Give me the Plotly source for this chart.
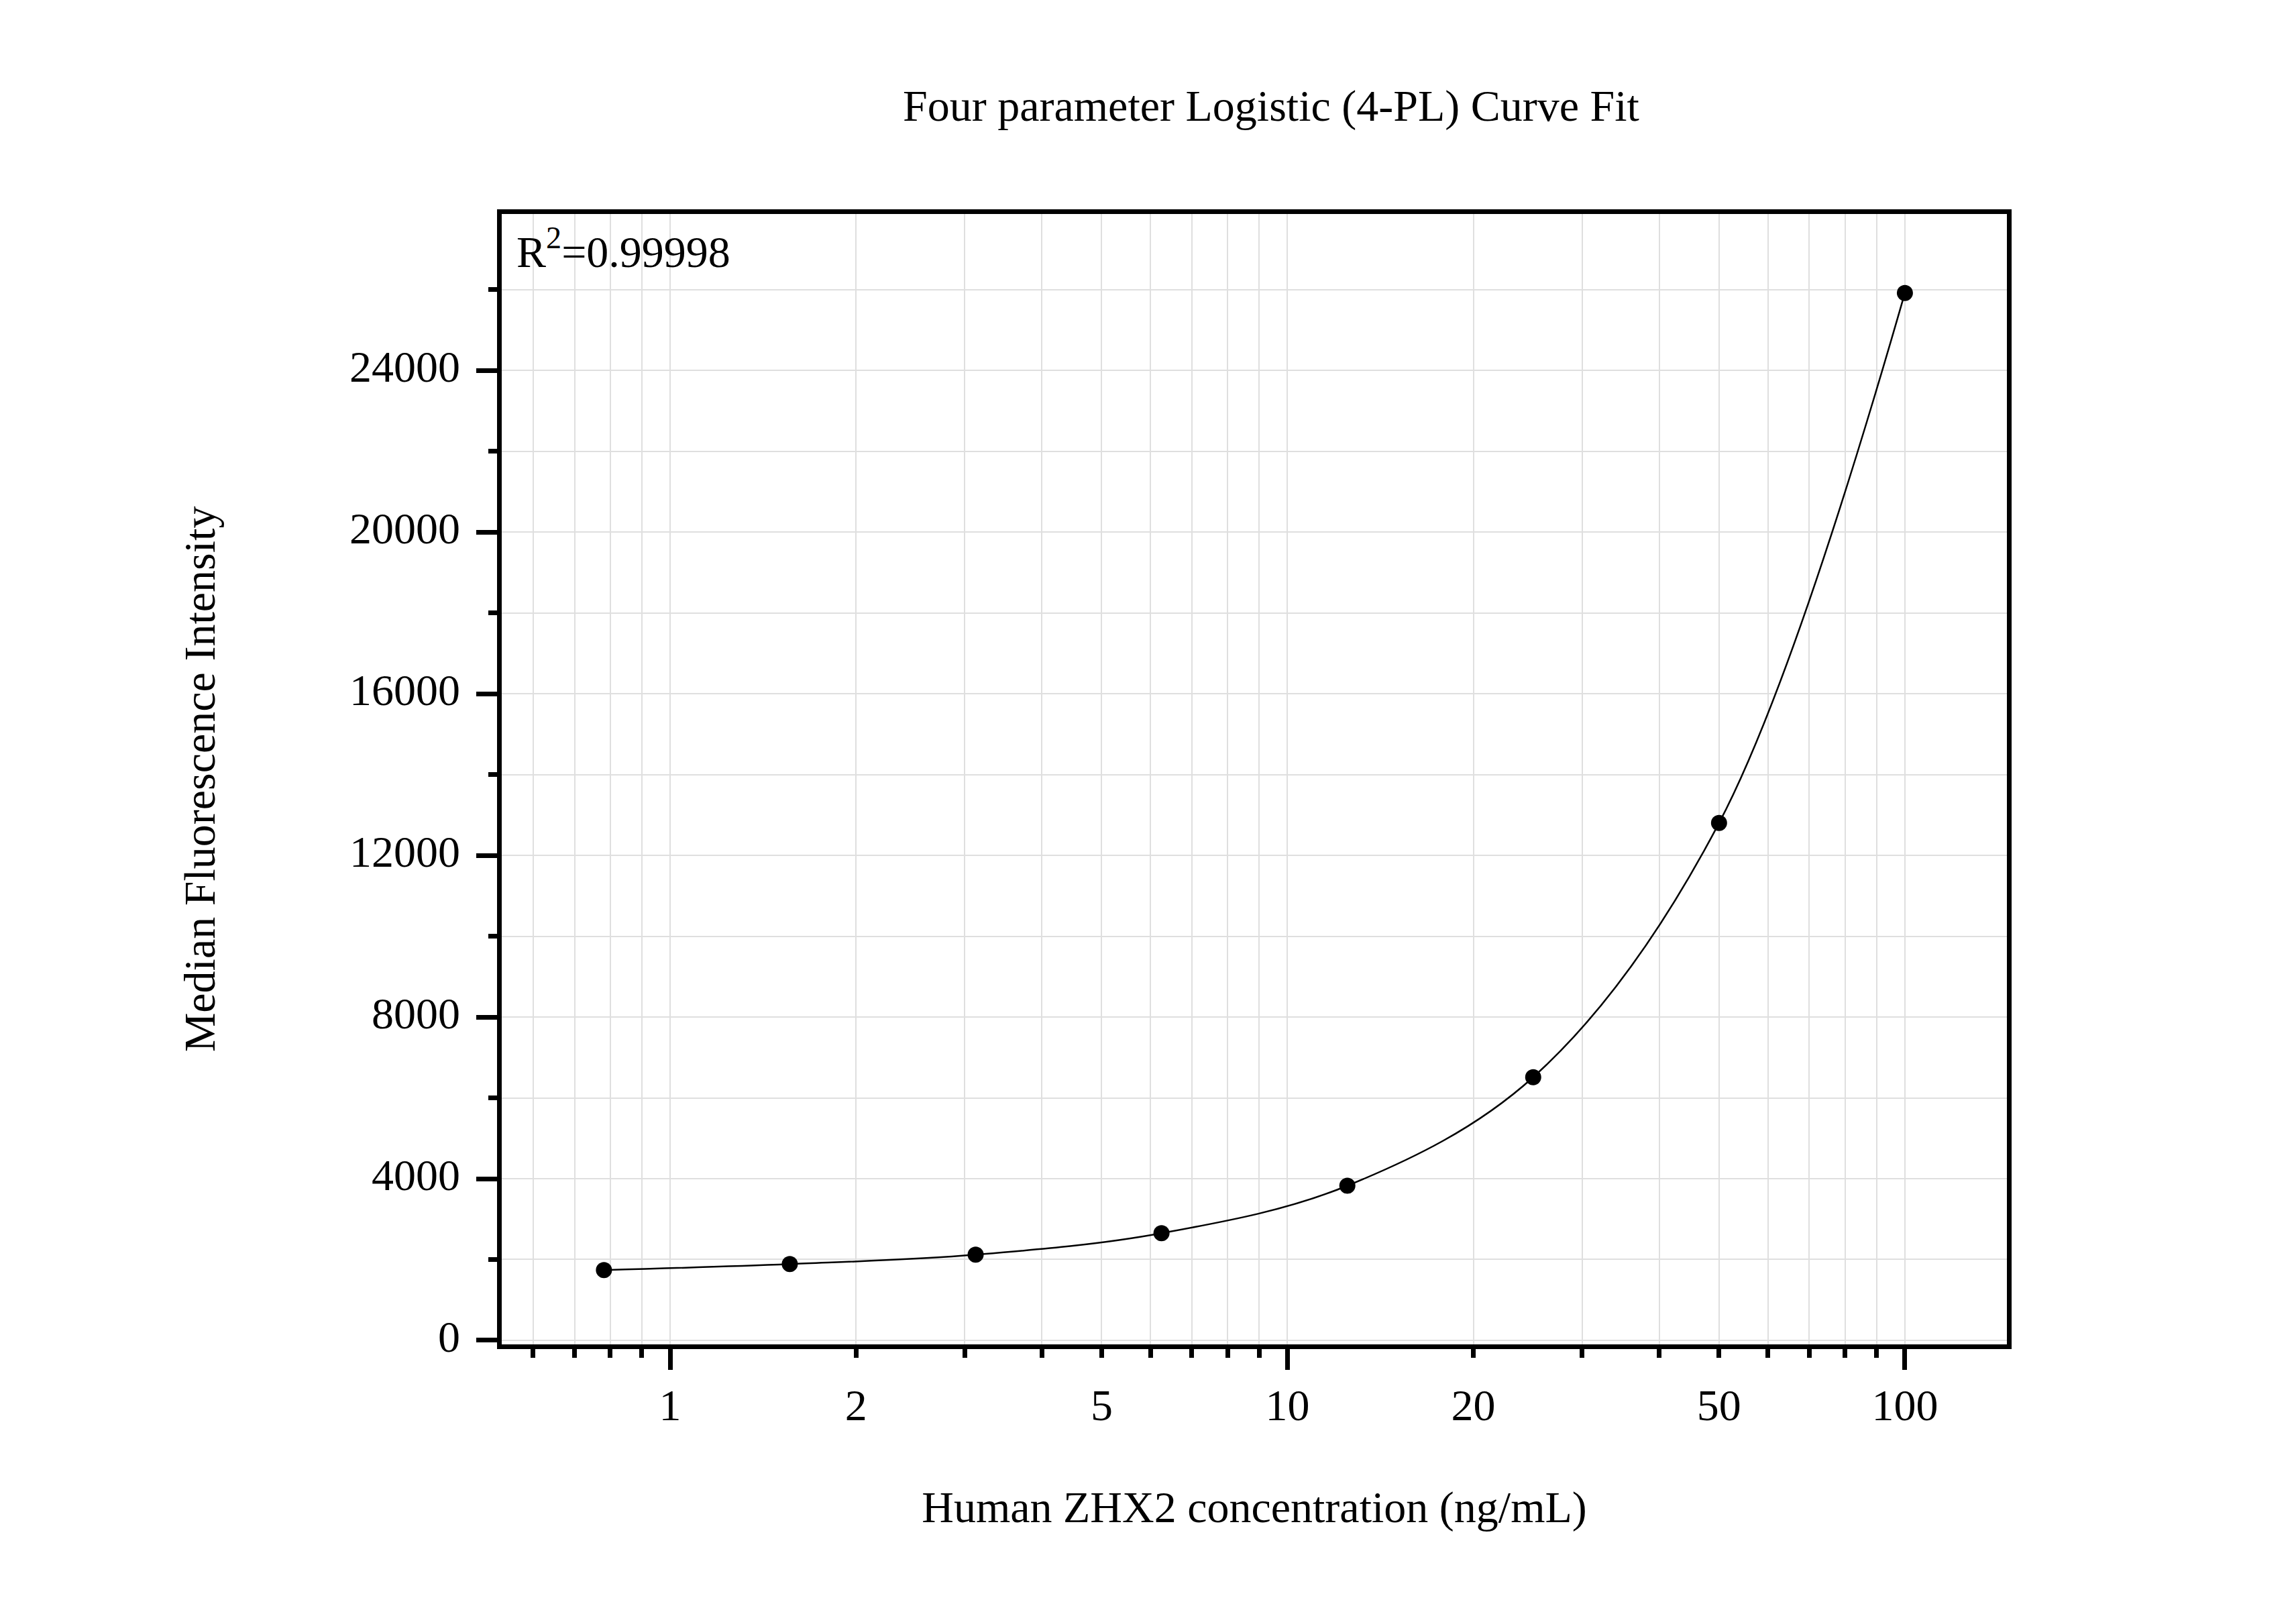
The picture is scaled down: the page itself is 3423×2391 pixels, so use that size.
import plotly.graph_objects as go
import math

# ---- data ----
concentration = [0.78125, 1.5625, 3.125, 6.25, 12.5, 25, 50, 100]
mfi = [1738, 1887, 2119, 2650, 3826, 6511, 12800, 25917]

x_tickvals = [1, 2, 5, 10, 20, 50, 100]
x_ticktext = ["1", "2", "5", "10", "20", "50", "100"]
x_minorvals = [0.6, 0.7, 0.8, 0.9, 3, 4, 6, 7, 8, 9, 30, 40, 60, 70, 80, 90]
x_longticks = [1, 10, 100]

title_text = "Four parameter Logistic (4-PL) Curve Fit"
x_title = "Human ZHX2 concentration (ng/mL)"
y_title = "Median Fluorescence Intensity"
r2_text = "R<sup>2</sup>=0.99998"

FONT = "Liberation Serif, Times New Roman, serif"
FS = 66
W, H = 3423, 2391
GRID = "#dfdfdf"
LW = 6.5

xr = [math.log10(0.5336), math.log10(146.3)]
yr = [-100, 27870]

fig = go.Figure()
fig.add_trace(go.Scatter(
    x=concentration, y=mfi, mode="lines",
    line=dict(color="black", width=2.5, shape="spline", smoothing=1.0),
    xaxis="x", yaxis="y", showlegend=False, hoverinfo="skip"))
fig.add_trace(go.Scatter(
    x=concentration, y=mfi, mode="markers",
    marker=dict(color="black", size=24),
    xaxis="x2", yaxis="y", showlegend=False))

fig.update_layout(
    width=W, height=H,
    paper_bgcolor="white", plot_bgcolor="white",
    margin=dict(l=748, r=431, t=319, b=387, pad=0),
    font=dict(family=FONT, size=FS, color="black"),
    title=dict(text=title_text, font=dict(family=FONT, size=FS, color="black"),
               x=1895 / W, xref="container", xanchor="center",
               y=1 - 157 / H, yref="container", yanchor="middle"),
    xaxis=dict(
        type="log", range=xr, showline=True, linewidth=LW, linecolor="black", mirror=True,
        tickmode="array", tickvals=x_tickvals, ticktext=x_ticktext,
        ticks="outside", ticklen=13, tickwidth=LW, tickcolor="black",
        ticklabelstandoff=14,
        tickfont=dict(family=FONT, size=FS, color="black"),
        showgrid=True, gridcolor=GRID, gridwidth=2, zeroline=False,
        minor=dict(tickmode="array", tickvals=x_minorvals, ticks="outside", ticklen=13,
                   tickwidth=LW, tickcolor="black", showgrid=True, gridcolor=GRID, gridwidth=2),
        title=dict(text=x_title, font=dict(family=FONT, size=FS, color="black"), standoff=95),
    ),
    xaxis2=dict(
        type="log", range=xr, overlaying="x", anchor="y", side="bottom",
        showline=True, linewidth=LW, linecolor="black",
        tickmode="array", tickvals=x_longticks, ticks="outside", ticklen=31,
        tickwidth=LW, tickcolor="black", showticklabels=False,
        showgrid=False, zeroline=False,
    ),
    yaxis=dict(
        range=yr, showline=True, linewidth=LW, linecolor="black", mirror=True,
        tick0=0, dtick=4000, tickformat="d",
        ticks="outside", ticklen=31, tickwidth=LW, tickcolor="black",
        ticklabelstandoff=11, ticklabelshift=-6,
        tickfont=dict(family=FONT, size=FS, color="black"),
        showgrid=True, gridcolor=GRID, gridwidth=2, zeroline=False,
        minor=dict(tick0=0, dtick=2000, ticks="outside", ticklen=13, tickwidth=LW,
                   tickcolor="black", showgrid=True, gridcolor=GRID, gridwidth=2),
        title=dict(text=y_title, font=dict(family=FONT, size=FS, color="black"), standoff=181),
    ),
    annotations=[dict(
        text=r2_text, xref="x domain", yref="y domain", x=0.009, y=0.995,
        xanchor="left", yanchor="top", showarrow=False,
        font=dict(family=FONT, size=FS, color="black"))],
)

fig.write_html("out.html", config={"displayModeBar": False},
               post_script="document.body.style.margin='0px';")
